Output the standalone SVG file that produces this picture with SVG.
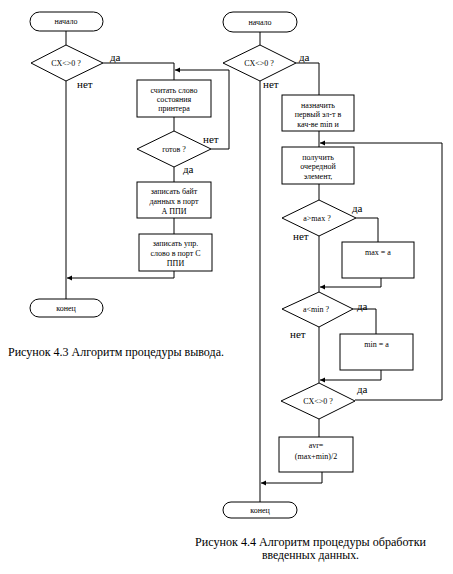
<svg xmlns="http://www.w3.org/2000/svg" width="453" height="574" viewBox="0 0 453 574">
<style>
.s{fill:#fff;stroke:#000;stroke-width:1}
.t{font-family:"Liberation Serif","Times New Roman",serif;font-size:8px;text-anchor:middle;fill:#000}
.l{font-family:"Liberation Serif","Times New Roman",serif;font-size:11px;fill:#000}
.c{font-family:"Liberation Serif","Times New Roman",serif;font-size:12.5px;fill:#000}
.e{fill:none;stroke:#000;stroke-width:1}
</style>
<defs>
<marker id="a" markerWidth="6" markerHeight="6" refX="5" refY="3" orient="auto" markerUnits="userSpaceOnUse">
<path d="M0,0.5 L5,3 L0,5.5 Z" fill="#000"/>
</marker>
</defs>
<rect width="453" height="574" fill="#fff"/>
<g id="connectors">
<path class="e" d="M66,31 V45"/>
<path class="e" d="M103,63 H174 V80"/>
<path class="e" d="M66,81 V299"/>
<path class="e" d="M174,117 V131"/>
<path class="e" d="M211,149 H229 V70 H175" marker-end="url(#a)"/>
<path class="e" d="M174,167 V182"/>
<path class="e" d="M174,218 V234"/>
<path class="e" d="M174,271 V278 H67" marker-end="url(#a)"/>
<path class="e" d="M260,32 V45"/>
<path class="e" d="M296,63 H319 V95"/>
<path class="e" d="M260,81 V502"/>
<path class="e" d="M319,131 V147"/>
<path class="e" d="M319,184 V200"/>
<path class="e" d="M356,218 H378 V242"/>
<path class="e" d="M381,278 V287 H320" marker-end="url(#a)"/>
<path class="e" d="M319,236 V292"/>
<path class="e" d="M353,309 H376 V334"/>
<path class="e" d="M381,370 V380 H320" marker-end="url(#a)"/>
<path class="e" d="M319,327 V383"/>
<path class="e" d="M355,400 H442 V143 H320" marker-end="url(#a)"/>
<path class="e" d="M319,419 V437"/>
<path class="e" d="M322,472 V483 H261" marker-end="url(#a)"/>
</g>
<g id="labels">
<text class="l" x="110" y="61">да</text>
<text class="l" x="77" y="88">нет</text>
<text class="l" x="203" y="143">нет</text>
<text class="l" x="183" y="173">да</text>
<text class="l" x="299" y="61">да</text>
<text class="l" x="263" y="88">нет</text>
<text class="l" x="352" y="212">да</text>
<text class="l" x="293" y="240">нет</text>
<text class="l" x="357" y="310">да</text>
<text class="l" x="290" y="338">нет</text>
<text class="l" x="357" y="393">да</text>
</g>
<g id="l_start"><rect class="s" x="30" y="12" width="73" height="19" rx="9.5"/><text class="t" x="66" y="24">начало</text></g>
<g id="l_cond"><polygon class="s" points="31,63 66,45 103,63 66,81"/><text class="t" x="66" y="65.5">CX&lt;&gt;0 ?</text></g>
<g id="l_read"><rect class="s" x="137" y="80" width="74" height="37"/><text class="t" x="174" y="92.5">считать слово</text><text class="t" x="174" y="101.5">состояния</text><text class="t" x="174" y="111">принтера</text></g>
<g id="l_ready"><polygon class="s" points="137,149 174,131 211,149 174,167"/><text class="t" x="174" y="151.5">готов  ?</text></g>
<g id="l_byte"><rect class="s" x="137" y="182" width="74" height="36"/><text class="t" x="174" y="193.5">записать байт</text><text class="t" x="174" y="203.5">данных в порт</text><text class="t" x="174" y="213.5">А ППИ</text></g>
<g id="l_ctrl"><rect class="s" x="139" y="234" width="73" height="37"/><text class="t" x="175.5" y="245.5">записать упр.</text><text class="t" x="175.5" y="255.5">слово в порт С</text><text class="t" x="175.5" y="265.5">ППИ</text></g>
<g id="l_end"><rect class="s" x="30" y="299" width="73" height="18" rx="9"/><text class="t" x="66" y="310.5">конец</text></g>
<text class="c" x="8" y="356" textLength="216" lengthAdjust="spacingAndGlyphs">Рисунок 4.3 Алгоритм процедуры вывода.</text>
<g id="r_start"><rect class="s" x="223" y="12" width="74" height="20" rx="10"/><text class="t" x="260" y="24.5">начало</text></g>
<g id="r_cond"><polygon class="s" points="223,63 260,45 296,63 260,81"/><text class="t" x="259" y="65.5">CX&lt;&gt;0 ?</text></g>
<g id="r_init"><rect class="s" x="282" y="95" width="72" height="36"/><text class="t" x="318" y="107.5">назначить</text><text class="t" x="318" y="117">первый эл-т в</text><text class="t" x="318" y="126.5">кач-ве min и</text></g>
<g id="r_get"><rect class="s" x="282" y="147" width="72" height="37"/><text class="t" x="318" y="159.5">получить</text><text class="t" x="318" y="168.5">очередной</text><text class="t" x="318" y="179">элемент,</text></g>
<g id="r_gt"><polygon class="s" points="282,218 319,200 356,218 319,236"/><text class="t" x="317" y="220.5">a&gt;max ?</text></g>
<g id="r_max"><rect class="s" x="342" y="242" width="72" height="36"/><text class="t" x="378" y="254.5">max = a</text></g>
<g id="r_lt"><polygon class="s" points="282,309 319,292 353,309 319,327"/><text class="t" x="316" y="311.5">a&lt;min ?</text></g>
<g id="r_min"><rect class="s" x="340" y="334" width="73" height="36"/><text class="t" x="376.5" y="346.5">min = a</text></g>
<g id="r_cond2"><polygon class="s" points="281,401 319,383 355,401 319,419"/><text class="t" x="318" y="403.5">CX&lt;&gt;0 ?</text></g>
<g id="r_avr"><rect class="s" x="279" y="437" width="74" height="35"/><text class="t" x="316" y="448">avr=</text><text class="t" x="316" y="459">(max+min)/2</text></g>
<g id="r_end"><rect class="s" x="223" y="502" width="74" height="16" rx="8"/><text class="t" x="260" y="512.5">конец</text></g>
<text class="c" x="195" y="546" textLength="231" lengthAdjust="spacingAndGlyphs">Рисунок 4.4 Алгоритм процедуры обработки</text>
<text class="c" x="262" y="558.5" textLength="97" lengthAdjust="spacingAndGlyphs">введенных данных.</text>
</svg>
